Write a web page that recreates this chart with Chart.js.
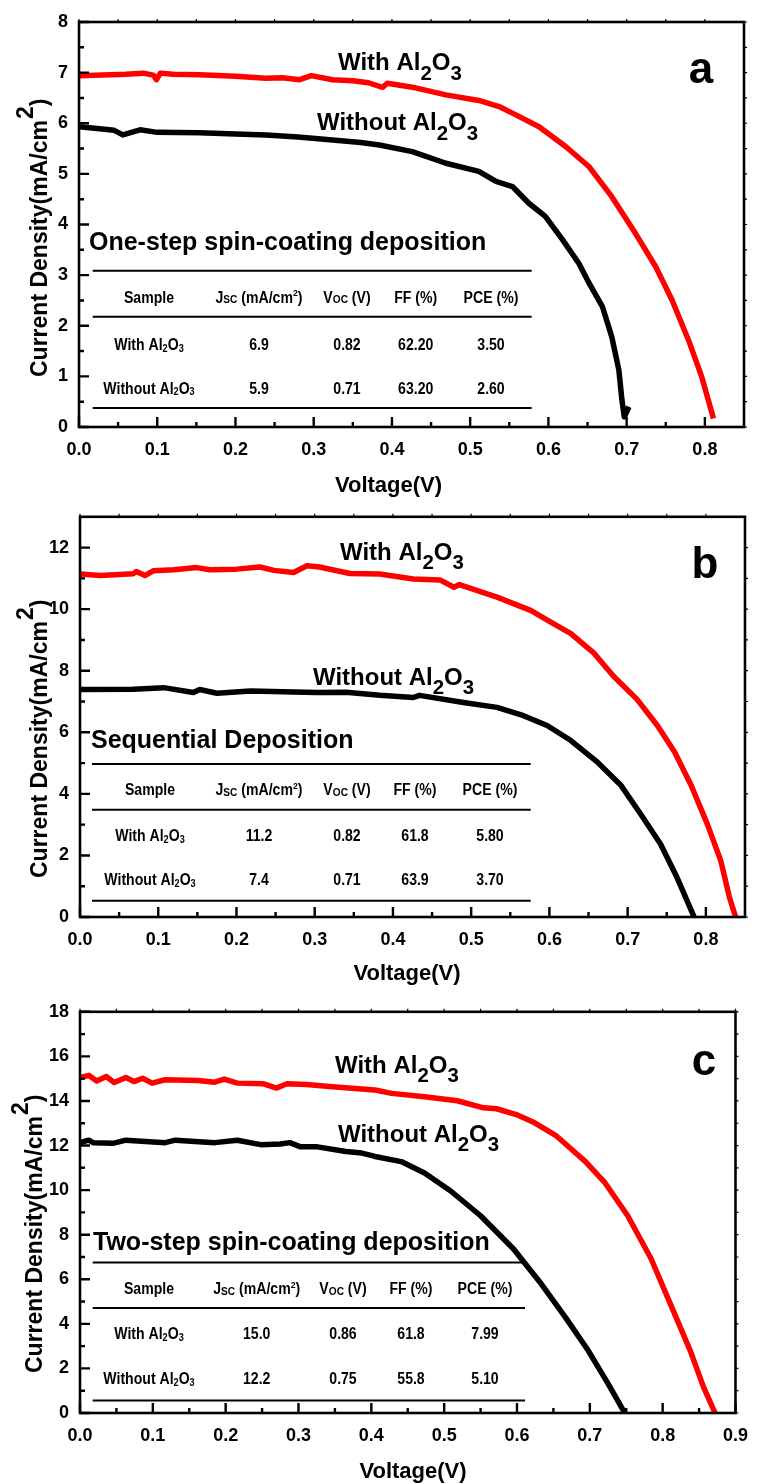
<!DOCTYPE html>
<html>
<head>
<meta charset="utf-8">
<script src="https://cdn.jsdelivr.net/npm/chart.js@4.4.1/dist/chart.umd.min.js"></script>
<style>
  html, body { margin: 0; padding: 0; background: #fff; }
  .panel { position: absolute; left: 0; width: 760px; }
</style>
</head>
<body>
<div class="panel" style="top:0px"><canvas id="cA" width="760" height="505"></canvas></div>
<div class="panel" style="top:495px"><canvas id="cB" width="760" height="500"></canvas></div>
<div class="panel" style="top:990px"><canvas id="cC" width="760" height="494"></canvas></div>
<script>
// ---- data ----
// a: one-step spin-coating
const voltA_with = [0, 0.02, 0.04, 0.06, 0.082, 0.095, 0.099, 0.104, 0.12, 0.154, 0.2, 0.239, 0.26, 0.282, 0.297, 0.324, 0.35, 0.37, 0.388, 0.394, 0.43, 0.469, 0.511, 0.537, 0.554, 0.588, 0.622, 0.652, 0.681, 0.711, 0.737, 0.758, 0.779, 0.796, 0.811];
const currA_with = [6.94, 6.95, 6.96, 6.97, 6.99, 6.95, 6.86, 6.99, 6.97, 6.96, 6.93, 6.89, 6.9, 6.86, 6.94, 6.86, 6.84, 6.8, 6.71, 6.79, 6.7, 6.56, 6.45, 6.33, 6.2, 5.93, 5.54, 5.14, 4.55, 3.83, 3.17, 2.51, 1.72, 0.99, 0.17];
const voltA_without = [0, 0.02, 0.045, 0.056, 0.078, 0.1, 0.154, 0.2, 0.239, 0.28, 0.324, 0.36, 0.384, 0.426, 0.469, 0.511, 0.533, 0.554, 0.575, 0.596, 0.618, 0.639, 0.652, 0.669, 0.681, 0.69, 0.694, 0.697, 0.703];
const currA_without = [5.93, 5.9, 5.86, 5.77, 5.87, 5.82, 5.81, 5.79, 5.77, 5.73, 5.67, 5.62, 5.57, 5.44, 5.21, 5.05, 4.85, 4.75, 4.42, 4.16, 3.7, 3.23, 2.84, 2.38, 1.78, 1.13, 0.53, 0.2, 0.4];

// b: sequential deposition
const voltB_with = [0, 0.026, 0.068, 0.072, 0.083, 0.094, 0.12, 0.149, 0.166, 0.2, 0.23, 0.248, 0.273, 0.29, 0.306, 0.324, 0.345, 0.383, 0.426, 0.46, 0.478, 0.485, 0.533, 0.576, 0.605, 0.627, 0.657, 0.682, 0.712, 0.738, 0.76, 0.781, 0.802, 0.819, 0.83, 0.838];
const currB_with = [11.14, 11.09, 11.15, 11.22, 11.09, 11.25, 11.28, 11.35, 11.28, 11.3, 11.37, 11.26, 11.19, 11.41, 11.37, 11.27, 11.16, 11.14, 10.98, 10.95, 10.71, 10.8, 10.39, 9.96, 9.53, 9.21, 8.57, 7.82, 7.07, 6.22, 5.36, 4.29, 3.01, 1.83, 0.65, 0];
const voltB_without = [0, 0.068, 0.107, 0.145, 0.153, 0.175, 0.218, 0.26, 0.303, 0.34, 0.383, 0.426, 0.434, 0.49, 0.533, 0.567, 0.597, 0.627, 0.661, 0.691, 0.717, 0.742, 0.763, 0.785];
const currB_without = [7.39, 7.4, 7.45, 7.29, 7.39, 7.27, 7.34, 7.32, 7.29, 7.3, 7.2, 7.13, 7.2, 6.97, 6.81, 6.54, 6.22, 5.74, 5.04, 4.29, 3.33, 2.37, 1.29, 0];

// c: two-step spin-coating
const voltC_with = [0, 0.012, 0.023, 0.036, 0.047, 0.063, 0.074, 0.086, 0.099, 0.117, 0.162, 0.185, 0.198, 0.216, 0.252, 0.27, 0.284, 0.311, 0.342, 0.405, 0.428, 0.473, 0.518, 0.554, 0.572, 0.599, 0.622, 0.653, 0.676, 0.694, 0.721, 0.752, 0.784, 0.811, 0.838, 0.856, 0.872];
const currC_with = [15.05, 15.15, 14.9, 15.1, 14.83, 15.05, 14.87, 15.02, 14.8, 14.95, 14.92, 14.84, 14.98, 14.8, 14.77, 14.58, 14.77, 14.74, 14.65, 14.49, 14.34, 14.19, 14.01, 13.69, 13.65, 13.39, 13.06, 12.46, 11.8, 11.28, 10.32, 8.85, 6.93, 4.86, 2.79, 1.17, 0];
const voltC_without = [0, 0.012, 0.018, 0.045, 0.063, 0.117, 0.131, 0.185, 0.216, 0.248, 0.275, 0.288, 0.302, 0.324, 0.365, 0.387, 0.405, 0.441, 0.473, 0.509, 0.55, 0.595, 0.631, 0.667, 0.698, 0.725, 0.748];
const currC_without = [12.13, 12.24, 12.13, 12.1, 12.24, 12.13, 12.24, 12.13, 12.24, 12.04, 12.07, 12.13, 11.95, 11.95, 11.73, 11.66, 11.51, 11.28, 10.77, 9.96, 8.85, 7.37, 5.89, 4.27, 2.79, 1.32, 0];

// tick values
const xTicksAB = [0, 0.1, 0.2, 0.3, 0.4, 0.5, 0.6, 0.7, 0.8];
const xMinorAB = [0.05, 0.15, 0.25, 0.35, 0.45, 0.55, 0.65, 0.75];
const xTicksC = [0, 0.1, 0.2, 0.3, 0.4, 0.5, 0.6, 0.7, 0.8, 0.9];
const xMinorC = [0.05, 0.15, 0.25, 0.35, 0.45, 0.55, 0.65, 0.75, 0.85];
const yTicksA = [0, 1, 2, 3, 4, 5, 6, 7, 8];
const yMinorA = [0.5, 1.5, 2.5, 3.5, 4.5, 5.5, 6.5, 7.5];
const yTicksB = [0, 2, 4, 6, 8, 10, 12];
const yMinorB = [1, 3, 5, 7, 9, 11];
const yTicksC = [0, 2, 4, 6, 8, 10, 12, 14, 16, 18];
const yMinorC = [1, 3, 5, 7, 9, 11, 13, 15, 17];

// texts
const methods = ["One-step spin-coating deposition", "Sequential Deposition", "Two-step spin-coating deposition"];
const letters = ["a", "b", "c"];
const tableA = [["6.9", "0.82", "62.20", "3.50"], ["5.9", "0.71", "63.20", "2.60"]];
const tableB = [["11.2", "0.82", "61.8", "5.80"], ["7.4", "0.71", "63.9", "3.70"]];
const tableC = [["15.0", "0.86", "61.8", "7.99"], ["12.2", "0.75", "55.8", "5.10"]];

const FONT = '"Liberation Sans", Arial, Helvetica, sans-serif';

// rich text: parts = [text, sizeFactor, dy (em)]
function rich(ctx, x, y, parts, size, align) {
    let w = 0;
    for (const p of parts) {
        ctx.font = "bold " + size * p[1] + "px " + FONT;
        w += ctx.measureText(p[0]).width;
    }
    let cx = align === "center" ? x - w / 2 : x;
    ctx.textAlign = "left";
    for (const p of parts) {
        ctx.font = "bold " + size * p[1] + "px " + FONT;
        ctx.fillText(p[0], cx, y + p[2] * size);
        cx += ctx.measureText(p[0]).width;
    }
}

const bigWith = [["With Al", 1, 0], ["2", 0.85, 0.4], ["O", 1, 0], ["3", 0.85, 0.4]];
const bigWithout = [["Without Al", 1, 0], ["2", 0.85, 0.4], ["O", 1, 0], ["3", 0.85, 0.4]];
const smWith = [["With Al", 1, 0], ["2", 0.65, 0.12], ["O", 1, 0], ["3", 0.65, 0.12]];
const smWithout = [["Without Al", 1, 0], ["2", 0.65, 0.12], ["O", 1, 0], ["3", 0.65, 0.12]];
const header = [
    [["Sample", 1, 0]],
    [["J", 1, 0], ["SC", 0.72, 0.05], [" (mA/cm", 1, 0], ["2", 0.62, -0.38], [")", 1, 0]],
    [["V", 1, 0], ["OC", 0.72, 0.05], [" (V)", 1, 0]],
    [["FF (%)", 1, 0]],
    [["PCE (%)", 1, 0]]
];

const decor = {
    id: "decor",
    afterDatasetsDraw(chart, args, o) {
        const ctx = chart.ctx, a = chart.chartArea;
        const x = chart.scales.x, y = chart.scales.y;
        ctx.save();
        ctx.fillStyle = "#000";
        ctx.strokeStyle = "#000";

        // frame
        ctx.lineWidth = 2.6;
        ctx.strokeRect(a.left, a.top, a.right - a.left, a.bottom - a.top);

        // inward ticks
        ctx.lineWidth = 2.4;
        ctx.beginPath();
        o.xTicks.forEach(v => { const p = x.getPixelForValue(v); ctx.moveTo(p, a.bottom); ctx.lineTo(p, a.bottom - 10); });
        o.xMinor.forEach(v => { const p = x.getPixelForValue(v); ctx.moveTo(p, a.bottom); ctx.lineTo(p, a.bottom - 5); });
        o.yTicks.forEach(v => { const p = y.getPixelForValue(v); ctx.moveTo(a.left, p); ctx.lineTo(a.left + 10, p); });
        o.yMinor.forEach(v => { const p = y.getPixelForValue(v); ctx.moveTo(a.left, p); ctx.lineTo(a.left + 5, p); });
        ctx.stroke();
        ctx.lineWidth = 1.2;
        ctx.beginPath();
        o.xTicks.concat(o.xMinor).forEach(v => { const p = x.getPixelForValue(v); ctx.moveTo(p, a.top); ctx.lineTo(p, a.top - 3); });
        o.yTicks.concat(o.yMinor).forEach(v => { const p = y.getPixelForValue(v); ctx.moveTo(a.right, p); ctx.lineTo(a.right + 3, p); });
        ctx.stroke();

        const L = a.left, T = a.top;
        ctx.textBaseline = "alphabetic";

        // curve labels
        rich(ctx, L + o.withPos[0], T + o.withPos[1], bigWith, 24, "left");
        rich(ctx, L + o.withoutPos[0], T + o.withoutPos[1], bigWithout, 24, "left");

        // panel letter
        ctx.textAlign = "center";
        ctx.font = "bold 44px " + FONT;
        ctx.fillText(o.letter, L + o.letterPos[0], T + o.letterPos[1]);

        // method title
        ctx.textAlign = "left";
        ctx.font = "bold 25px " + FONT;
        ctx.fillText(o.method, L + o.titlePos[0], T + o.titlePos[1]);

        // table rules
        ctx.lineWidth = 2;
        ctx.beginPath();
        o.rules.forEach(r => { ctx.moveTo(L + o.ruleX[0], T + r); ctx.lineTo(L + o.ruleX[1], T + r); });
        ctx.stroke();

        // table cells (narrow face)
        const cell = (parts, cx, cy) => {
            ctx.save();
            ctx.translate(L + cx, T + cy);
            ctx.scale(0.88, 1);
            rich(ctx, 0, 0, parts, 16, "center");
            ctx.restore();
        };
        header.forEach((h, i) => cell(h, o.cols[i], o.rows[0]));
        const names = [smWith, smWithout];
        o.table.forEach((row, r) => {
            cell(names[r], o.cols[0], o.rows[r + 1]);
            row.forEach((v, i) => cell([[v, 1, 0]], o.cols[i + 1], o.rows[r + 1]));
        });

        // axis titles
        ctx.textAlign = "center";
        ctx.font = "bold 22px " + FONT;
        ctx.fillText("Voltage(V)", o.xTitle[0], o.xTitle[1]);

        ctx.save();
        ctx.translate(o.yTitle[0], o.yTitle[1]);
        ctx.rotate(-Math.PI / 2);
        ctx.textAlign = "left";
        ctx.font = "bold 23px " + FONT;
        const s1 = "Current Density(mA/cm";
        ctx.fillText(s1, 0, 0);
        let w = ctx.measureText(s1).width;
        ctx.fillText("2", w + 1, -14);
        w += ctx.measureText("2").width + 1;
        ctx.fillText(")", w, 0);
        ctx.restore();

        ctx.restore();
    }
};

function pts(vs, js) {
    return vs.map((v, i) => ({ x: v, y: js[i] }));
}

function makePanel(id, h, area, xMax, yMax, xTicks, xMinor, yTicks, yMinor, withV, withJ, woV, woJ, d) {
    new Chart(document.getElementById(id).getContext("2d"), {
        type: "scatter",
        data: {
            datasets: [
                { label: "With Al2O3", data: pts(withV, withJ), showLine: true, borderColor: "#ff0000", borderWidth: 5.5, pointRadius: 0, tension: 0, borderJoinStyle: "round" },
                { label: "Without Al2O3", data: pts(woV, woJ), showLine: true, borderColor: "#000000", borderWidth: 5.5, pointRadius: 0, tension: 0, borderJoinStyle: "round" }
            ]
        },
        options: {
            responsive: false,
            animation: false,
            layout: { padding: { top: area.top, right: 760 - area.right, left: 0, bottom: 0 } },
            plugins: {
                legend: { display: false },
                tooltip: { enabled: false },
                decor: Object.assign({ xTicks: xTicks, xMinor: xMinor, yTicks: yTicks, yMinor: yMinor }, d)
            },
            scales: {
                x: {
                    type: "linear", min: 0, max: xMax,
                    grid: { display: false, drawTicks: false },
                    border: { display: false },
                    afterFit: s => { s.height = h - area.bottom; },
                    afterBuildTicks: s => { s.ticks = xTicks.map(v => ({ value: v })); },
                    ticks: { padding: 12, color: "#000", font: { family: FONT, size: 18, weight: "bold" }, callback: v => v.toFixed(1) }
                },
                y: {
                    type: "linear", min: 0, max: yMax,
                    grid: { display: false, drawTicks: false },
                    border: { display: false },
                    afterFit: s => { s.width = area.left; },
                    afterBuildTicks: s => { s.ticks = yTicks.map(v => ({ value: v })); },
                    ticks: { padding: 11, color: "#000", font: { family: FONT, size: 18, weight: "bold" }, callback: v => String(v) }
                }
            }
        },
        plugins: [decor]
    });
}

document.addEventListener("DOMContentLoaded", function () {
    makePanel("cA", 505, { top: 22, bottom: 427, left: 79, right: 744 }, 0.85, 8,
        xTicksAB, xMinorAB, yTicksA, yMinorA, voltA_with, currA_with, voltA_without, currA_without,
        { withPos: [259, 48], withoutPos: [238, 108], letter: letters[0], letterPos: [622, 61], method: methods[0], titlePos: [10, 228],
          rules: [248.7, 294.7, 386], ruleX: [13.7, 452.7], rows: [280.5, 328, 371.5], cols: [70, 180, 268, 336.7, 412],
          table: tableA, yTitle: [47, 377], xTitle: [388.5, 492] });

    makePanel("cB", 500, { top: 17, bottom: 422, left: 80, right: 745 }, 0.85, 13,
        xTicksAB, xMinorAB, yTicksB, yMinorB, voltB_with, currB_with, voltB_without, currB_without,
        { withPos: [260, 43], withoutPos: [233, 168], letter: letters[1], letterPos: [625, 61], method: methods[1], titlePos: [11, 231],
          rules: [247.3, 293, 384], ruleX: [12, 450.7], rows: [278, 324, 368], cols: [70, 179, 267, 335, 410],
          table: tableB, yTitle: [47, 383], xTitle: [407, 485] });

    makePanel("cC", 494, { top: 17, bottom: 423, left: 80, right: 746 }, 0.9, 18,
        xTicksC, xMinorC, yTicksC, yMinorC, voltC_with, currC_with, voltC_without, currC_without,
        { withPos: [255, 61], withoutPos: [258, 130], letter: letters[2], letterPos: [624, 63], method: methods[2], titlePos: [13, 238],
          rules: [250.7, 296.3, 388.7], ruleX: [12.7, 445], rows: [282, 327.5, 372], cols: [69, 176.7, 263, 331, 405],
          table: tableC, yTitle: [42, 383], xTitle: [413, 488] });
});
</script>
</body>
</html>
